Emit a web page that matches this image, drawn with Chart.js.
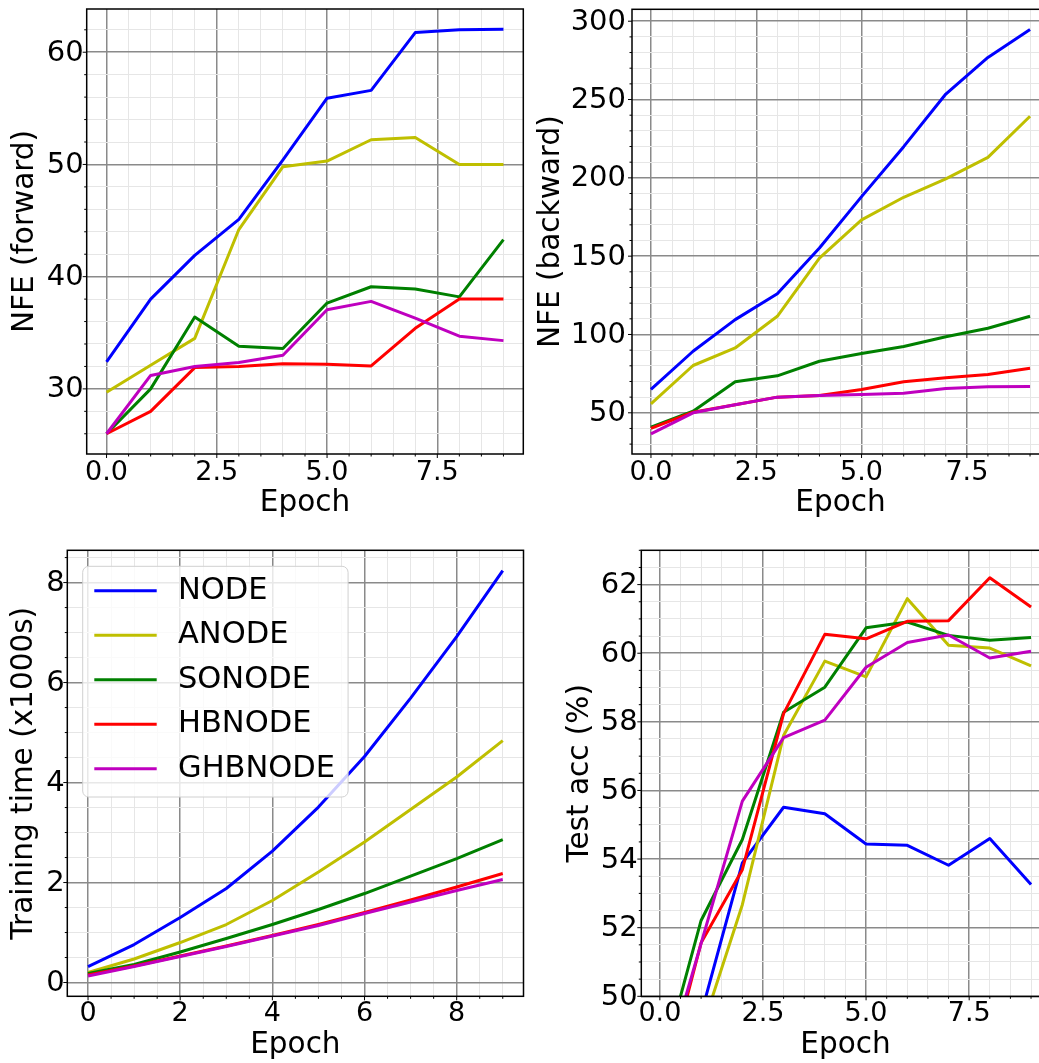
<!DOCTYPE html>
<html>
<head>
<meta charset="utf-8">
<script src="https://cdn.jsdelivr.net/npm/chart.js@4.4.1/dist/chart.umd.min.js"></script>
<style>
  html, body { margin: 0; padding: 0; background: #fff; overflow: hidden; }
  body { width: 1039px; height: 1063px; position: relative; }
  canvas { position: absolute; }
</style>
</head>
<body>
<canvas id="nfeForward"></canvas>
<canvas id="nfeBackward"></canvas>
<canvas id="trainTime"></canvas>
<canvas id="testAcc"></canvas>
<script>
const epochs = [0, 1, 2, 3, 4, 5, 6, 7, 8, 9];
const models = ['NODE', 'ANODE', 'SONODE', 'HBNODE', 'GHBNODE'];
const colors = ['#0000ff', '#bfbf00', '#008000', '#ff0000', '#bf00bf'];

// rows follow the order of `models`
const nfeForward = [
  [32.4, 38.0, 41.9, 45.1, 50.4, 55.9, 56.6, 61.75, 62.0, 62.05],
  [29.7, 32.1, 34.5, 44.2, 49.8, 50.3, 52.2, 52.4, 50.0, 50.0],
  [26.0, 30.0, 36.4, 33.8, 33.6, 37.65, 39.1, 38.9, 38.2, 43.3],
  [26.0, 28.0, 31.9, 32.0, 32.25, 32.2, 32.05, 35.4, 38.0, 38.0],
  [26.0, 31.2, 32.0, 32.35, 33.0, 37.05, 37.8, 36.3, 34.7, 34.3]
];
const nfeBackward = [
  [64.9, 89.3, 109.5, 126.0, 155.2, 188.0, 219.9, 253.5, 276.9, 294.7],
  [55.7, 80.2, 91.4, 111.6, 148.8, 173.2, 187.6, 199.3, 213.1, 239.3],
  [40.8, 51.0, 69.8, 73.6, 82.9, 87.8, 92.3, 98.6, 104.0, 111.6],
  [40.0, 50.4, 55.1, 60.0, 61.0, 64.9, 69.8, 72.3, 74.4, 78.5],
  [36.6, 50.0, 55.1, 60.0, 61.0, 61.7, 62.5, 65.5, 66.6, 66.8]
];
const trainTime = [
  [0.32, 0.76, 1.30, 1.88, 2.63, 3.51, 4.52, 5.69, 6.92, 8.24],
  [0.20, 0.47, 0.80, 1.16, 1.64, 2.21, 2.81, 3.46, 4.11, 4.84],
  [0.18, 0.36, 0.61, 0.88, 1.16, 1.46, 1.78, 2.13, 2.48, 2.86],
  [0.15, 0.33, 0.53, 0.73, 0.94, 1.16, 1.40, 1.65, 1.91, 2.18],
  [0.13, 0.32, 0.52, 0.72, 0.93, 1.14, 1.38, 1.61, 1.84, 2.06]
];
const testAcc = [
  [45.0, 49.48, 53.89, 55.51, 55.32, 54.44, 54.40, 53.82, 54.60, 53.26],
  [45.0, 48.97, 52.67, 57.6, 59.77, 59.31, 61.59, 60.23, 60.15, 59.63],
  [47.79, 52.21, 54.57, 58.28, 59.01, 60.74, 60.91, 60.52, 60.38, 60.46],
  [46.93, 51.56, 53.69, 58.24, 60.55, 60.42, 60.93, 60.95, 62.20, 61.35],
  [47.39, 51.54, 55.69, 57.54, 58.05, 59.59, 60.31, 60.53, 59.86, 60.06]
];

// tick labels
const epochTicksHalf = [0, 2.5, 5, 7.5];
const epochTicksInt = [0, 2, 4, 6, 8];
const fwdTicks = [30, 40, 50, 60];
const bwdTicks = [50, 100, 150, 200, 250, 300];
const timeTicks = [0, 2, 4, 6, 8];
const accTicks = [50, 52, 54, 56, 58, 60, 62];

const FONT = 'DejaVu Sans';
const MAJOR_GRID = '#8a8a8a';
const MINOR_GRID = '#e6e6e6';

const isMajor = (v, majors) => majors.some(m => Math.abs(m - v) < 1e-6);

function stepTicks(min, max, step) {
  const out = [];
  for (let k = Math.ceil(min / step - 1e-9); k * step <= max + 1e-9; k++) {
    out.push(+(k * step).toFixed(6));
  }
  return out;
}

// matplotlib style 5% margins
function padRange(rows) {
  const all = rows.flat();
  const lo = Math.min(...all), hi = Math.max(...all);
  const m = (hi - lo) * 0.05;
  return [lo - m, hi + m];
}

function axis(o) {
  const horiz = o.horizontal;
  return {
    type: 'linear',
    position: horiz ? 'bottom' : 'left',
    min: o.min,
    max: o.max,
    afterBuildTicks: s => {
      s.ticks = stepTicks(o.min, o.max, o.minorStep).map(v => ({value: v}));
    },
    afterFit: s => {
      if (horiz) {
        s.height = o.size; s.paddingLeft = 0; s.paddingRight = 0;
      } else {
        s.width = o.size; s.paddingTop = 0; s.paddingBottom = 0;
      }
    },
    ticks: {
      autoSkip: false,
      maxRotation: 0,
      minRotation: 0,
      padding: o.tickPad,
      labelOffset: horiz ? 0 : 1,
      color: '#000',
      font: {family: FONT, size: horiz ? 27 : 29, lineHeight: 1},
      callback: v => isMajor(v, o.majors) ? o.fmt(v) : ''
    },
    grid: {
      drawTicks: false,
      color: c => isMajor(c.tick.value, o.majors) ? MAJOR_GRID : MINOR_GRID,
      lineWidth: c => isMajor(c.tick.value, o.majors) ? 1.5 : 1
    },
    border: {display: false},
    title: {
      display: true,
      text: o.title,
      color: '#000',
      font: {family: FONT, size: 29.5, lineHeight: 1},
      padding: horiz ? {top: 0, bottom: o.titlePad} : {top: o.titlePad, bottom: 0}
    }
  };
}

// spines on top of the lines, plus small outward tick marks
const framePlugin = {
  id: 'frame',
  afterDatasetsDraw(chart) {
    const {ctx, chartArea: a} = chart;
    const xs = chart.scales.x, ys = chart.scales.y;
    ctx.save();
    ctx.strokeStyle = '#000';
    ctx.lineWidth = 1;
    xs.ticks.forEach(t => {
      const p = xs.getPixelForValue(t.value);
      const len = isMajor(t.value, xs.options._majors) ? 4 : 2.5;
      ctx.beginPath(); ctx.moveTo(p, a.bottom); ctx.lineTo(p, a.bottom + len); ctx.stroke();
    });
    ys.ticks.forEach(t => {
      const p = ys.getPixelForValue(t.value);
      const len = isMajor(t.value, ys.options._majors) ? 4 : 2.5;
      ctx.beginPath(); ctx.moveTo(a.left - len, p); ctx.lineTo(a.left, p); ctx.stroke();
    });
    ctx.lineWidth = 1.5;
    ctx.strokeRect(a.left, a.top, a.right - a.left, a.bottom - a.top);
    ctx.restore();
  }
};

const boxLegendPlugin = {
  id: 'boxLegend',
  afterDraw(chart) {
    const {ctx, chartArea: a} = chart;
    const left = a.left + 15.4, top = a.top + 16;
    const textX = left + 95.3;
    ctx.save();
    ctx.font = '30.5px "' + FONT + '"';
    const maxW = Math.max(...chart.data.datasets.map(d => ctx.measureText(d.label).width));
    const w = 95.3 + maxW + 13, h = 230.7;
    ctx.beginPath();
    ctx.roundRect(left, top, w, h, 6);
    ctx.fillStyle = 'rgba(255,255,255,0.8)';
    ctx.fill();
    ctx.strokeStyle = '#d0d0d0';
    ctx.lineWidth = 1;
    ctx.stroke();
    chart.data.datasets.forEach((d, i) => {
      const y = top + 24.4 + i * 44.5;
      ctx.strokeStyle = d.borderColor;
      ctx.lineWidth = 3;
      ctx.beginPath(); ctx.moveTo(left + 11.6, y); ctx.lineTo(left + 74, y); ctx.stroke();
      ctx.fillStyle = '#000';
      ctx.textBaseline = 'middle';
      ctx.textAlign = 'left';
      ctx.fillText(d.label, textX, y);
    });
    ctx.restore();
  }
};

function drawPanel(p) {
  const canvas = document.getElementById(p.id);
  const b = p.box, a = p.area;
  canvas.width = b.w; canvas.height = b.h;
  canvas.style.left = b.x + 'px';
  canvas.style.top = b.y + 'px';

  const xAxis = axis(Object.assign({horizontal: true, size: b.y + b.h - a.bottom, min: -0.45, max: 9.45, minorStep: 0.5, title: 'Epoch'}, p.x));
  xAxis._majors = p.x.majors;
  const yAxis = axis(Object.assign({horizontal: false, size: a.left - b.x}, p.y));
  yAxis._majors = p.y.majors;

  const plugins = [framePlugin];
  if (p.legend) plugins.push(boxLegendPlugin);

  new Chart(canvas, {
    type: 'line',
    data: {
      datasets: models.map((name, i) => ({
        label: name,
        data: epochs.map((e, j) => ({x: e, y: p.series[i][j]})),
        borderColor: colors[i],
        backgroundColor: colors[i],
        borderWidth: 3,
        pointRadius: 0,
        tension: 0,
        fill: false,
        clip: 0,
        borderJoinStyle: 'round',
        order: models.length - i
      }))
    },
    options: {
      responsive: false,
      animation: false,
      events: [],
      layout: {padding: {left: 0, top: a.top - b.y, right: b.x + b.w - a.right, bottom: 0}},
      plugins: {legend: {display: false}, tooltip: {enabled: false}},
      scales: {x: xAxis, y: yAxis}
    },
    plugins: plugins
  });
}

const fmt1 = v => v.toFixed(1);
const fmt0 = v => String(Math.round(v));

const fwdRange = padRange(nfeForward);
const bwdRange = padRange(nfeBackward);
const timeRange = padRange(trainTime);

drawPanel({
  id: 'nfeForward',
  box: {x: 0, y: 0, w: 530, h: 527},
  area: {left: 86.7, top: 9, right: 523.3, bottom: 454},
  series: nfeForward,
  x: {majors: epochTicksHalf, fmt: fmt1, tickPad: 5.8, titlePad: 8.75},
  y: {min: fwdRange[0], max: fwdRange[1], majors: fwdTicks, minorStep: 2, fmt: fmt0, tickPad: 3.1, title: 'NFE (forward)', titlePad: 10.45}
});

drawPanel({
  id: 'nfeBackward',
  box: {x: 530, y: 0, w: 530, h: 527},
  area: {left: 632, top: 9.3, right: 1049, bottom: 454},
  series: nfeBackward,
  x: {majors: epochTicksHalf, fmt: fmt1, tickPad: 5.5, titlePad: 8.75},
  y: {min: bwdRange[0], max: bwdRange[1], majors: bwdTicks, minorStep: 10, fmt: fmt0, tickPad: 6, title: 'NFE (backward)', titlePad: 6.55}
});

drawPanel({
  id: 'trainTime',
  box: {x: 0, y: 527, w: 530, h: 536},
  area: {left: 67.3, top: 550.3, right: 523.5, bottom: 996.3},
  series: trainTime,
  legend: true,
  x: {majors: epochTicksInt, fmt: fmt0, tickPad: 4.5, titlePad: 2.75},
  y: {min: timeRange[0], max: timeRange[1], majors: timeTicks, minorStep: 0.5, fmt: fmt0, tickPad: 2.5, title: 'Training time (x1000s)', titlePad: 9.95}
});

drawPanel({
  id: 'testAcc',
  box: {x: 530, y: 527, w: 530, h: 536},
  area: {left: 641.3, top: 550.3, right: 1049.6, bottom: 996.3},
  series: testAcc,
  x: {majors: epochTicksHalf, fmt: fmt1, tickPad: 3.7, titlePad: 2.75},
  y: {min: 50, max: 63, majors: accTicks, minorStep: 0.5, fmt: fmt0, tickPad: 3.7, title: 'Test acc (%)', titlePad: 35.25}
});
</script>
</body>
</html>
